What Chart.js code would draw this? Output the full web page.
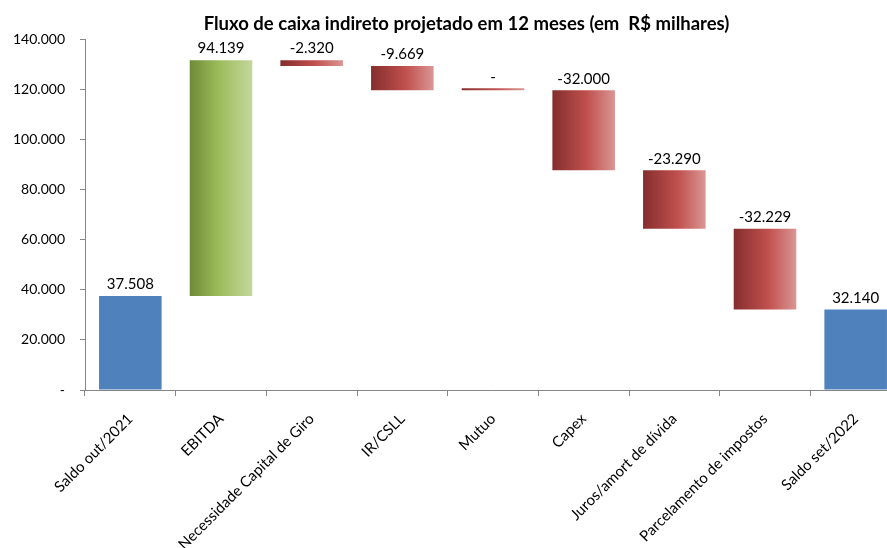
<!DOCTYPE html>
<html>
<head>
<meta charset="utf-8">
<script src="https://cdn.jsdelivr.net/npm/chart.js@4.4.1/dist/chart.umd.min.js"></script>
<style>
  html, body { margin: 0; padding: 0; background: #fff; overflow: hidden; }
  #wrap { width: 905px; height: 548px; }
</style>
</head>
<body>
<div id="wrap"><canvas id="c" width="905" height="548"></canvas></div>
<script>
const categories = ["Saldo out/2021", "EBITDA", "Necessidade Capital de Giro", "IR/CSLL", "Mutuo", "Capex", "Juros/amort de dívida", "Parcelamento de impostos", "Saldo set/2022"];
const values = [37508, 94139, -2320, -9669, 0, -32000, -23290, -32229, 32140];
const isTotal = [true, false, false, false, false, false, false, false, true];
const yTicks = [0, 20000, 40000, 60000, 80000, 100000, 120000, 140000];
const titleText = "Fluxo de caixa indireto projetado em 12 meses (em  R$ milhares)";

const FONT = "Lato, 'Liberation Sans', sans-serif";

function fmt(v) {
  if (v === 0) return "-";
  const s = Math.abs(v).toString().replace(/\B(?=(\d{3})+(?!\d))/g, ".");
  return (v < 0 ? "-" : "") + s;
}

// floating ranges for the waterfall
const ranges = [];
let running = 0;
values.forEach((v, i) => {
  if (isTotal[i]) { ranges.push([0, v]); running = v; }
  else { ranges.push([running, running + v]); running += v; }
});

const BAR_PCT = 0.69;

function barColor(ctx) {
  const i = ctx.dataIndex;
  if (isTotal[i]) return "#4F81BD";
  const chart = ctx.chart;
  const xs = chart.scales.x;
  if (!xs || !chart.chartArea) return values[i] >= 0 ? "#9BBB59" : "#C0504D";
  const cx = xs.getPixelForValue(i);
  const half = (xs.width / categories.length) * BAR_PCT / 2;
  const g = chart.ctx.createLinearGradient(cx - half, 0, cx + half, 0);
  if (values[i] > 0) {
    g.addColorStop(0, "#6E8A36");
    g.addColorStop(0.45, "#9BBB59");
    g.addColorStop(1, "#C4D79C");
  } else {
    g.addColorStop(0, "#842E2D");
    g.addColorStop(0.55, "#C0504D");
    g.addColorStop(1, "#DA9694");
  }
  return g;
}

const labelPlugin = {
  id: "valueLabels",
  afterLayout(chart) {
    // the reference title is centred a little right of the canvas centre
    const t = chart.titleBlock;
    if (t) { t.left += 16; t.right += 16; }
  },
  afterDatasetsDraw(chart) {
    const meta = chart.getDatasetMeta(0);
    const ctx = chart.ctx;
    ctx.save();
    ctx.font = "15px " + FONT;
    ctx.fillStyle = "#000";
    ctx.textAlign = "center";
    ctx.textBaseline = "bottom";
    meta.data.forEach((el, i) => {
      const p = el.getProps(["x", "y", "base"], true);
      const top = Math.min(p.y, p.base);
      ctx.fillText(fmt(values[i]), p.x, top - 4);
    });
    ctx.restore();
  }
};

new Chart(document.getElementById("c"), {
  type: "bar",
  data: {
    labels: categories,
    datasets: [{
      data: ranges,
      backgroundColor: barColor,
      borderWidth: 0,
      categoryPercentage: 1,
      barPercentage: BAR_PCT,
      minBarLength: 2
    }]
  },
  options: {
    responsive: false,
    animation: false,
    layout: { padding: { left: 0, right: 4, top: 0, bottom: 0 } },
    plugins: {
      legend: { display: false },
      tooltip: { enabled: false },
      title: {
        display: true,
        text: titleText,
        color: "#000",
        font: { family: FONT, size: 18.5, weight: "bold" },
        padding: { top: 13, bottom: 4 },
        align: "center"
      }
    },
    scales: {
      x: {
        offset: true,
        grid: { display: true, drawOnChartArea: false, offset: true, tickLength: 6, color: "#868686" },
        border: { color: "#868686" },
        ticks: {
          autoSkip: false, maxRotation: 45, minRotation: 45,
          color: "#000", font: { family: FONT, size: 15 }, padding: 14
        },
        afterFit(s) { s.height = 158; }
      },
      y: {
        min: 0, max: 140000,
        afterBuildTicks(s) { s.ticks = yTicks.map(v => ({ value: v })); },
        grid: { display: true, drawOnChartArea: false, tickLength: 5, color: "#868686" },
        border: { color: "#868686" },
        ticks: {
          color: "#000", font: { family: FONT, size: 14 }, padding: 15,
          callback: (v) => fmt(v)
        },
        afterFit(s) { s.width = 85; }
      }
    }
  },
  plugins: [labelPlugin]
});
</script>
</body>
</html>
